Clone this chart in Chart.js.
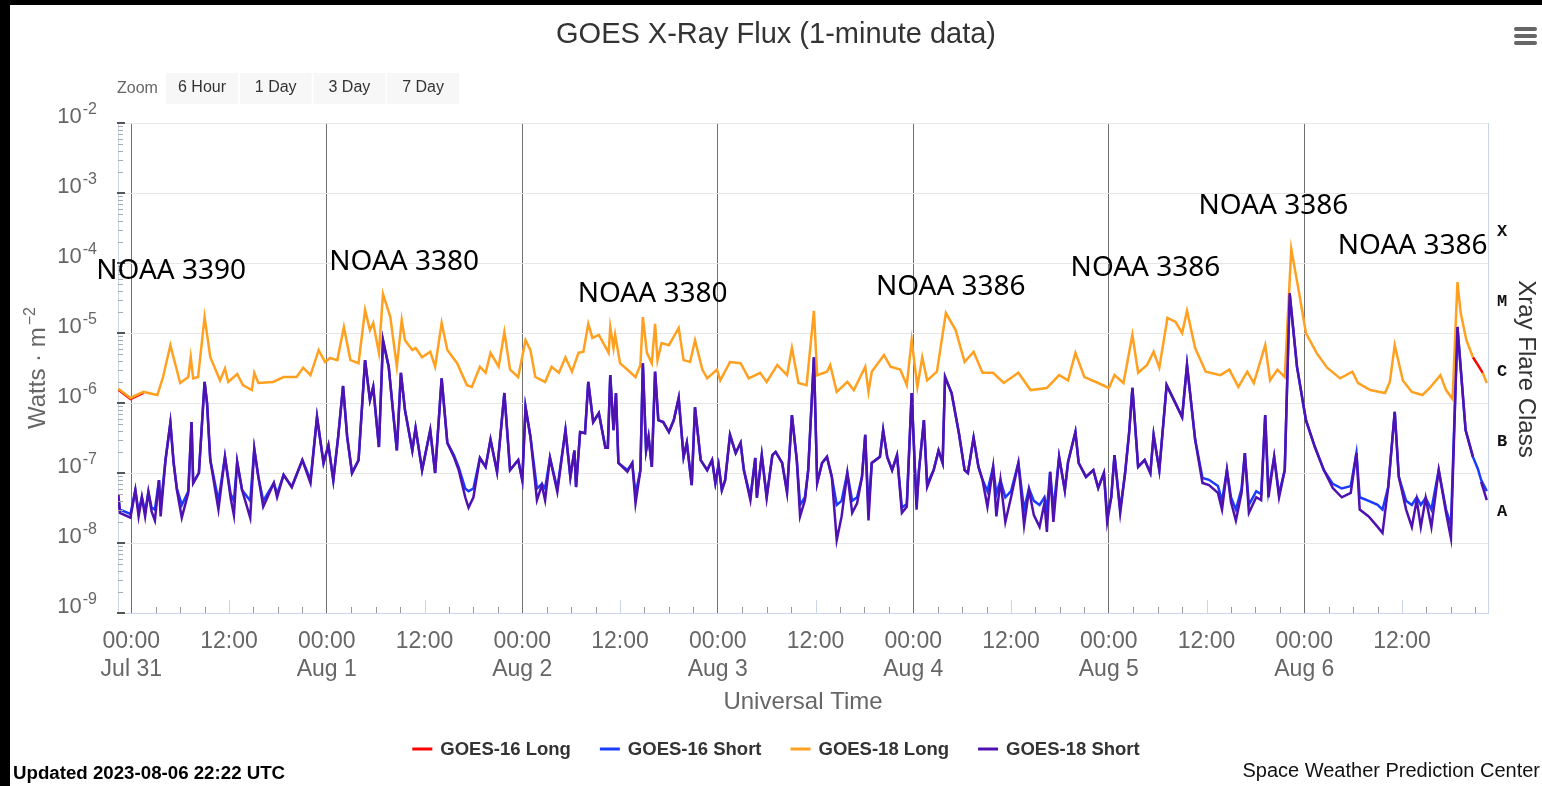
<!DOCTYPE html>
<html lang="en">
<head>
<meta charset="UTF-8">
<title>GOES X-Ray Flux (1-minute data)</title>
<script src="https://cdn.jsdelivr.net/npm/chart.js@4.4.0/dist/chart.umd.min.js"></script>
<style>
    body, html { margin: 0; padding: 0; background: #fff; }
    canvas { display: block; }
</style>
</head>
<body>
<canvas id="xrayChart" width="1542" height="786"></canvas>
<script>
// time = hours since 2023-07-31 00:00 UTC, value = flux in W/m^2
const dayLabels = ['Jul 31', 'Aug 1', 'Aug 2', 'Aug 3', 'Aug 4', 'Aug 5', 'Aug 6'];
const decadeExponents = [-9, -8, -7, -6, -5, -4, -3, -2];
const flareClasses = ['A', 'B', 'C', 'M', 'X'];
const flareClassBase = [1e-8, 1e-7, 1e-6, 1e-5, 1e-4];
const zoomButtons = ['6 Hour', '1 Day', '3 Day', '7 Day'];

const noaaLabels = ['NOAA 3390', 'NOAA 3380', 'NOAA 3380', 'NOAA 3386', 'NOAA 3386', 'NOAA 3386', 'NOAA 3386'];
const noaaHours = [4.9, 33.5, 64.0, 100.6, 124.5, 140.2, 157.3];
const noaaFlux = [7.7e-5, 1.03e-4, 3.6e-5, 4.5e-5, 8.5e-5, 6.5e-4, 1.75e-4];

// GOES-16 long channel, only visible where it is not under GOES-18
const g16Long = [
    [-1.6, 1.55e-6], [-0.1, 1.14e-6], [1.5, 1.4e-6], [2.2, null],
    [164.7, 4.5e-6], [165.3, 3.5e-6], [165.9, 2.7e-6]
];

const g18Long = [
    [-1.6, 1.6e-6], [-0.1, 1.18e-6], [1.5, 1.44e-6], [3.2, 1.3e-6], [3.9, 2.35e-6], [4.8, 6.7e-6],
    [6.0, 1.93e-6], [7.0, 2.35e-6], [7.3, 4.5e-6], [7.6, 2.25e-6], [8.2, 2.35e-6], [9.0, 1.69e-5],
    [9.7, 4.5e-6], [10.9, 2.1e-6], [11.5, 3.1e-6], [11.9, 2.0e-6], [13.0, 2.6e-6], [13.7, 1.8e-6],
    [14.8, 1.53e-6], [15.1, 2.7e-6], [15.6, 1.93e-6], [17.4, 2.0e-6], [18.7, 2.35e-6], [20.3, 2.35e-6],
    [21.1, 3.2e-6], [22.0, 2.5e-6], [23.0, 5.7e-6], [23.8, 3.85e-6], [24.4, 4.4e-6], [25.3, 4.1e-6],
    [26.1, 1.22e-5], [26.9, 4.1e-6], [27.9, 3.7e-6], [28.7, 2.13e-5], [29.3, 1.1e-5], [29.7, 1.39e-5],
    [30.4, 5.2e-6], [30.9, 3.6e-5], [31.8, 1.69e-5], [32.6, 3.3e-6], [33.2, 1.53e-5], [33.6, 7.9e-6],
    [34.5, 5.7e-6], [34.9, 6.1e-6], [35.7, 4.5e-6], [36.7, 5.4e-6], [37.3, 3.3e-6], [38.1, 1.39e-5],
    [38.8, 5.7e-6], [40.0, 3.7e-6], [41.2, 1.8e-6], [41.8, 1.7e-6], [42.8, 3.3e-6], [43.5, 2.7e-6],
    [44.1, 5.2e-6], [45.1, 3.3e-6], [45.8, 1.03e-5], [46.5, 3.0e-6], [47.5, 2.35e-6], [48.4, 7.9e-6],
    [49.0, 5.7e-6], [49.6, 2.35e-6], [50.8, 2.0e-6], [51.6, 3.3e-6], [52.5, 2.7e-6], [53.3, 4.5e-6],
    [54.1, 2.8e-6], [54.9, 5.2e-6], [55.5, 5.4e-6], [56.1, 1.35e-5], [56.6, 8.5e-6], [57.4, 9.4e-6],
    [58.6, 5.2e-6], [58.8, 1.22e-5], [59.2, 6.1e-6], [59.4, 9.4e-6], [60.0, 3.7e-6], [61.9, 2.35e-6],
    [62.5, 3.5e-6], [62.8, 1.69e-5], [63.3, 5.2e-6], [63.9, 3.7e-6], [64.3, 1.35e-5], [64.6, 4.1e-6],
    [65.1, 7.2e-6], [66.0, 6.7e-6], [67.2, 1.18e-5], [67.8, 4.1e-6], [68.6, 3.85e-6], [69.2, 7.9e-6],
    [70.1, 3.0e-6], [70.7, 2.25e-6], [71.9, 3.0e-6], [72.3, 2.1e-6], [73.5, 3.85e-6], [74.8, 3.7e-6],
    [75.8, 2.25e-6], [77.2, 2.7e-6], [78.0, 2.0e-6], [79.3, 3.5e-6], [80.5, 2.5e-6], [81.1, 6.1e-6],
    [81.9, 1.93e-6], [82.9, 1.8e-6], [83.8, 2.07e-5], [84.2, 2.5e-6], [85.4, 2.8e-6], [85.8, 3.5e-6],
    [86.6, 1.44e-6], [87.9, 2.0e-6], [88.7, 1.53e-6], [90.1, 3.3e-6], [90.5, 1.44e-6], [90.9, 2.8e-6],
    [92.4, 4.85e-6], [93.2, 3.3e-6], [94.4, 3.0e-6], [95.2, 1.8e-6], [95.8, 7.9e-6], [96.5, 1.7e-6],
    [97.1, 4.5e-6], [97.7, 2.1e-6], [98.9, 2.8e-6], [100.0, 1.93e-5], [101.2, 1.1e-5], [102.3, 3.85e-6],
    [103.4, 5.4e-6], [104.5, 2.7e-6], [105.8, 2.7e-6], [107.1, 1.93e-6], [108.9, 2.7e-6], [110.4, 1.53e-6],
    [112.4, 1.64e-6], [113.9, 2.5e-6], [115.0, 2.1e-6], [115.9, 5.2e-6], [117.0, 2.35e-6], [118.7, 1.93e-6],
    [120.0, 1.64e-6], [120.7, 2.5e-6], [121.8, 1.93e-6], [122.9, 9.4e-6], [123.6, 2.7e-6], [124.7, 3.5e-6],
    [125.5, 5.4e-6], [126.2, 3.2e-6], [127.2, 1.64e-5], [128.2, 1.44e-5], [129.0, 1.0e-5], [129.6, 2.07e-5],
    [130.6, 6.1e-6], [131.9, 2.8e-6], [133.7, 2.5e-6], [134.8, 3.0e-6], [135.9, 1.7e-6], [137.0, 2.8e-6],
    [137.8, 1.93e-6], [139.2, 6.7e-6], [139.8, 2.1e-6], [140.7, 3.0e-6], [141.6, 2.35e-6], [142.4, 1.58e-4],
    [143.3, 4.1e-5], [144.2, 1.0e-5], [145.5, 5.2e-6], [146.8, 3.2e-6], [148.4, 2.25e-6], [149.9, 2.8e-6],
    [150.6, 1.93e-6], [152.1, 1.53e-6], [153.9, 1.39e-6], [154.5, 2.0e-6], [155.1, 6.7e-6], [156.1, 2.1e-6],
    [157.2, 1.44e-6], [158.5, 1.3e-6], [159.4, 1.64e-6], [160.7, 2.5e-6], [161.4, 1.53e-6], [162.2, 1.14e-6],
    [162.8, 5.35e-5], [163.2, 1.93e-5], [163.9, 7.9e-6], [164.7, 4.5e-6], [165.3, null], [165.9, 2.7e-6],
    [166.4, 1.93e-6]
];

const g16Short = [
    [-1.6, 5.0e-8], [-1.4, 3.0e-8], [-0.1, 2.6e-8], [0.5, 5.7e-8], [0.9, 2.8e-8], [1.3, 4.5e-8],
    [1.7, 2.8e-8], [2.1, 5.35e-8], [2.5, 3.2e-8], [2.9, 3.0e-8], [3.4, 7.9e-8], [3.6, 3.2e-8],
    [4.2, 1.53e-7], [4.8, 5.2e-7], [5.2, 1.39e-7], [5.6, 6.0e-8], [6.2, 3.5e-8], [7.0, 5.5e-8],
    [7.4, 5.35e-7], [7.6, 7.2e-8], [8.3, 1.0e-7], [9.0, 2.0e-6], [9.3, 1.0e-6], [9.7, 1.53e-7],
    [10.7, 4.0e-8], [11.5, 1.7e-7], [12.2, 5.0e-8], [12.6, 4.0e-8], [13.0, 1.44e-7], [13.6, 5.7e-8],
    [14.6, 4.0e-8], [15.1, 2.2e-7], [15.6, 8.8e-8], [16.2, 4.0e-8], [17.5, 7.2e-8], [17.9, 5.0e-8],
    [18.7, 9.4e-8], [19.7, 6.3e-8], [21.0, 1.53e-7], [22.0, 8.0e-8], [22.8, 6.3e-7], [23.6, 1.39e-7],
    [24.2, 2.5e-7], [24.8, 7.9e-8], [25.4, 3.3e-7], [26.0, 1.75e-6], [26.5, 3.3e-7], [27.1, 1.0e-7],
    [27.9, 1.53e-7], [28.7, 4.1e-6], [29.3, 1.1e-6], [29.7, 1.7e-6], [30.4, 2.35e-7], [30.9, 7.9e-6],
    [31.6, 3.3e-6], [32.6, 2.1e-7], [33.1, 2.7e-6], [33.6, 7.9e-7], [34.5, 2.1e-7], [34.9, 4.4e-7],
    [35.7, 1.1e-7], [36.7, 4.1e-7], [37.3, 1.0e-7], [38.1, 2.25e-6], [38.8, 2.7e-7], [39.6, 1.8e-7],
    [40.2, 1.2e-7], [41.0, 6.0e-8], [41.4, 5.5e-8], [42.0, 6.0e-8], [42.8, 1.64e-7], [43.5, 1.22e-7],
    [44.1, 3.0e-7], [44.9, 1.04e-7], [45.8, 1.39e-6], [46.5, 1.1e-7], [47.5, 1.53e-7], [48.0, 7.9e-8],
    [48.4, 8.7e-7], [49.0, 3.3e-7], [49.8, 6.0e-8], [50.4, 7.0e-8], [50.8, 6.0e-8], [51.4, 1.64e-7],
    [52.3, 6.0e-8], [53.3, 4.1e-7], [53.9, 8.8e-8], [54.4, 2.1e-7], [54.6, 6.3e-8], [55.1, 3.85e-7],
    [55.7, 3.7e-7], [56.1, 2.0e-6], [56.7, 5.35e-7], [57.4, 7.2e-7], [58.2, 2.3e-7], [58.5, 2.3e-7],
    [58.8, 2.5e-6], [59.2, 4.1e-7], [59.5, 1.39e-6], [59.8, 1.39e-7], [60.9, 1.1e-7], [61.5, 1.39e-7],
    [61.9, 5.0e-8], [62.5, 1.1e-7], [62.8, 3.7e-6], [63.2, 2.1e-7], [63.5, 3.3e-7], [63.9, 1.22e-7],
    [64.3, 2.8e-6], [64.7, 5.7e-7], [65.3, 5.35e-7], [66.0, 3.85e-7], [66.6, 5.7e-7], [67.2, 1.18e-6],
    [67.8, 1.7e-7], [68.2, 2.7e-7], [68.8, 6.7e-8], [69.2, 8.7e-7], [69.9, 1.53e-7], [70.7, 1.1e-7],
    [71.3, 1.53e-7], [71.7, 7.2e-8], [72.1, 1.3e-7], [72.5, 5.7e-8], [72.9, 7.9e-8], [73.5, 3.5e-7],
    [74.2, 1.93e-7], [74.8, 2.7e-7], [75.2, 1.1e-7], [76.0, 4.5e-8], [76.6, 1.64e-7], [76.8, 4.6e-8],
    [77.4, 1.8e-7], [78.0, 4.6e-8], [78.7, 1.8e-7], [79.1, 2.0e-7], [79.9, 1.39e-7], [80.5, 5.5e-8],
    [81.1, 6.7e-7], [81.7, 1.53e-7], [82.1, 3.5e-8], [82.7, 4.5e-8], [83.1, 1.1e-7], [83.8, 4.5e-6],
    [84.2, 7.2e-8], [84.8, 1.39e-7], [85.4, 1.7e-7], [86.0, 8.8e-8], [86.6, 3.5e-8], [87.2, 4.0e-8],
    [87.9, 1.0e-7], [88.5, 4.0e-8], [89.1, 4.5e-8], [89.7, 8.8e-8], [90.1, 3.5e-7], [90.5, 3.0e-8],
    [90.9, 1.39e-7], [91.9, 1.7e-7], [92.3, 4.1e-7], [92.8, 1.7e-7], [93.4, 1.1e-7], [94.0, 1.8e-7],
    [94.6, 3.2e-8], [95.2, 3.6e-8], [95.8, 1.39e-6], [96.4, 3.5e-8], [96.7, 1.1e-7], [97.3, 5.7e-7],
    [97.7, 7.0e-8], [98.5, 1.1e-7], [99.1, 2.1e-7], [99.6, 1.39e-7], [99.9, 2.35e-6], [100.7, 1.39e-6],
    [101.6, 3.7e-7], [102.3, 1.1e-7], [102.7, 1.0e-7], [103.4, 3.2e-7], [104.0, 1.22e-7], [104.5, 8.0e-8],
    [105.1, 5.5e-8], [105.8, 1.22e-7], [106.2, 5.0e-8], [106.7, 7.9e-8], [107.3, 4.5e-8], [108.0, 5.5e-8],
    [108.9, 1.39e-7], [109.6, 3.0e-8], [110.2, 6.0e-8], [110.8, 4.0e-8], [111.5, 3.5e-8], [112.1, 4.5e-8],
    [112.4, 3.0e-8], [112.8, 1.04e-7], [113.2, 3.0e-8], [113.9, 1.7e-7], [114.6, 5.7e-8], [115.0, 1.44e-7],
    [115.9, 3.85e-7], [116.3, 1.39e-7], [117.2, 8.8e-8], [118.1, 1.1e-7], [118.7, 6.1e-8], [119.4, 1.0e-7],
    [119.8, 2.5e-8], [120.3, 4.5e-8], [120.7, 1.8e-7], [121.4, 3.0e-8], [122.0, 1.0e-7], [122.5, 3.85e-7],
    [122.9, 1.64e-6], [123.6, 1.22e-7], [124.4, 1.53e-7], [125.1, 1.0e-7], [125.5, 3.5e-7], [126.2, 1.1e-7],
    [127.1, 1.8e-6], [128.0, 1.1e-6], [129.0, 6.3e-7], [129.6, 3.5e-6], [130.6, 3.0e-7], [131.5, 8.5e-8],
    [132.3, 8.0e-8], [133.4, 6.5e-8], [133.9, 4.0e-8], [134.5, 1.1e-7], [135.0, 4.5e-8], [135.6, 3.0e-8],
    [136.3, 6.0e-8], [136.7, 1.93e-7], [137.2, 3.5e-8], [138.1, 5.5e-8], [138.7, 5.0e-8], [139.2, 6.7e-7],
    [139.6, 5.5e-8], [140.3, 1.7e-7], [140.9, 5.0e-8], [141.6, 1.1e-7], [142.2, 3.7e-5], [143.1, 3.3e-6],
    [144.2, 5.7e-7], [145.3, 2.35e-7], [146.4, 1.1e-7], [147.5, 7.0e-8], [148.6, 6.0e-8], [149.7, 6.5e-8],
    [150.4, 1.93e-7], [150.8, 4.5e-8], [151.9, 4.0e-8], [153.0, 3.5e-8], [153.6, 3.0e-8], [154.3, 6.3e-8],
    [155.1, 7.5e-7], [155.6, 8.8e-8], [156.5, 4.0e-8], [157.2, 3.5e-8], [157.8, 4.5e-8], [158.3, 3.5e-8],
    [158.9, 4.4e-8], [159.6, 3.0e-8], [160.5, 1.1e-7], [161.4, 3.0e-8], [162.0, 1.8e-8], [162.8, 1.22e-5],
    [163.8, 4.1e-7], [164.7, 1.7e-7], [165.3, 1.15e-7], [165.7, 8.0e-8], [166.4, 5.5e-8]
];

const g18Short = [
    [-1.6, 4.85e-8], [-1.4, 2.7e-8], [-0.1, 2.3e-8], [0.5, 5.7e-8], [0.9, 2.4e-8], [1.3, 4.5e-8],
    [1.7, 2.4e-8], [2.1, 5.35e-8], [2.5, 2.8e-8], [2.9, 2.1e-8], [3.4, 7.9e-8], [3.6, 2.4e-8],
    [4.2, 1.53e-7], [4.8, 5.2e-7], [5.2, 1.39e-7], [5.6, 5.7e-8], [6.2, 2.3e-8], [7.0, 5.2e-8],
    [7.4, 5.35e-7], [7.6, 7.2e-8], [8.3, 1.0e-7], [9.0, 2.0e-6], [9.3, 1.0e-6], [9.7, 1.53e-7],
    [10.7, 3.0e-8], [11.5, 1.7e-7], [12.2, 4.4e-8], [12.6, 2.5e-8], [13.0, 1.44e-7], [13.6, 5.7e-8],
    [14.6, 2.3e-8], [15.1, 2.2e-7], [15.6, 8.8e-8], [16.2, 3.3e-8], [17.5, 7.2e-8], [17.9, 4.5e-8],
    [18.7, 9.4e-8], [19.7, 6.3e-8], [21.0, 1.53e-7], [22.0, 7.2e-8], [22.8, 6.3e-7], [23.6, 1.39e-7],
    [24.2, 2.5e-7], [24.8, 7.9e-8], [25.4, 3.3e-7], [26.0, 1.75e-6], [26.5, 3.3e-7], [27.1, 1.0e-7],
    [27.9, 1.53e-7], [28.7, 4.1e-6], [29.3, 1.1e-6], [29.7, 1.7e-6], [30.4, 2.35e-7], [30.9, 7.9e-6],
    [31.6, 3.3e-6], [32.6, 2.1e-7], [33.1, 2.7e-6], [33.6, 7.9e-7], [34.5, 2.1e-7], [34.9, 4.4e-7],
    [35.7, 1.1e-7], [36.7, 4.1e-7], [37.3, 1.0e-7], [38.1, 2.25e-6], [38.8, 2.7e-7], [39.6, 1.7e-7],
    [40.2, 1.1e-7], [41.0, 4.5e-8], [41.4, 3.2e-8], [42.0, 4.5e-8], [42.8, 1.64e-7], [43.5, 1.22e-7],
    [44.1, 3.0e-7], [44.9, 1.04e-7], [45.8, 1.39e-6], [46.5, 1.1e-7], [47.5, 1.53e-7], [48.0, 7.9e-8],
    [48.4, 8.7e-7], [49.0, 3.3e-7], [49.8, 4.1e-8], [50.4, 6.7e-8], [50.8, 4.1e-8], [51.4, 1.64e-7],
    [52.3, 5.35e-8], [53.3, 4.1e-7], [53.9, 8.8e-8], [54.4, 2.1e-7], [54.6, 6.3e-8], [55.1, 3.85e-7],
    [55.7, 3.7e-7], [56.1, 2.0e-6], [56.7, 5.35e-7], [57.4, 7.2e-7], [58.2, 2.3e-7], [58.5, 2.3e-7],
    [58.8, 2.5e-6], [59.2, 4.1e-7], [59.5, 1.39e-6], [59.8, 1.39e-7], [60.9, 1.04e-7], [61.5, 1.39e-7],
    [61.9, 3.7e-8], [62.5, 1.1e-7], [62.8, 3.7e-6], [63.2, 2.1e-7], [63.5, 3.3e-7], [63.9, 1.22e-7],
    [64.3, 2.8e-6], [64.7, 5.7e-7], [65.3, 5.35e-7], [66.0, 3.85e-7], [66.6, 5.7e-7], [67.2, 1.18e-6],
    [67.8, 1.7e-7], [68.2, 2.7e-7], [68.8, 6.7e-8], [69.2, 8.7e-7], [69.9, 1.53e-7], [70.7, 1.1e-7],
    [71.3, 1.53e-7], [71.7, 7.2e-8], [72.1, 1.3e-7], [72.5, 5.7e-8], [72.9, 7.9e-8], [73.5, 3.5e-7],
    [74.2, 1.93e-7], [74.8, 2.7e-7], [75.2, 1.1e-7], [76.0, 4.1e-8], [76.6, 1.64e-7], [76.8, 4.4e-8],
    [77.4, 1.8e-7], [78.0, 4.4e-8], [78.7, 1.8e-7], [79.1, 2.0e-7], [79.9, 1.39e-7], [80.5, 5.2e-8],
    [81.1, 6.7e-7], [81.7, 1.53e-7], [82.1, 2.4e-8], [82.7, 4.1e-8], [83.1, 1.1e-7], [83.8, 4.5e-6],
    [84.2, 7.2e-8], [84.8, 1.39e-7], [85.4, 1.7e-7], [86.0, 8.8e-8], [86.6, 1.1e-8], [87.2, 2.4e-8],
    [87.9, 1.0e-7], [88.5, 2.7e-8], [89.1, 3.7e-8], [89.7, 8.8e-8], [90.1, 3.5e-7], [90.5, 2.1e-8],
    [90.9, 1.39e-7], [91.9, 1.7e-7], [92.3, 4.1e-7], [92.8, 1.7e-7], [93.4, 1.1e-7], [94.0, 1.8e-7],
    [94.6, 2.7e-8], [95.2, 3.3e-8], [95.8, 1.39e-6], [96.4, 3.0e-8], [96.7, 1.1e-7], [97.3, 5.7e-7],
    [97.7, 6.3e-8], [98.5, 1.1e-7], [99.1, 2.1e-7], [99.6, 1.39e-7], [99.9, 2.35e-6], [100.7, 1.39e-6],
    [101.6, 3.7e-7], [102.3, 1.1e-7], [102.7, 1.0e-7], [103.4, 3.2e-7], [104.0, 1.22e-7], [104.5, 7.9e-8],
    [105.1, 3.3e-8], [105.8, 1.22e-7], [106.2, 2.4e-8], [106.7, 7.9e-8], [107.3, 2.0e-8], [108.0, 4.5e-8],
    [108.9, 1.39e-7], [109.6, 1.8e-8], [110.2, 5.7e-8], [110.8, 2.5e-8], [111.5, 1.7e-8], [112.1, 3.7e-8],
    [112.4, 1.44e-8], [112.8, 1.04e-7], [113.2, 2.0e-8], [113.9, 1.7e-7], [114.6, 5.7e-8], [115.0, 1.44e-7],
    [115.9, 3.85e-7], [116.3, 1.39e-7], [117.2, 8.8e-8], [118.1, 1.1e-7], [118.7, 6.1e-8], [119.4, 1.0e-7],
    [119.8, 2.0e-8], [120.3, 4.5e-8], [120.7, 1.8e-7], [121.4, 2.7e-8], [122.0, 1.0e-7], [122.5, 3.85e-7],
    [122.9, 1.64e-6], [123.6, 1.22e-7], [124.4, 1.53e-7], [125.1, 1.0e-7], [125.5, 3.5e-7], [126.2, 1.1e-7],
    [127.1, 1.8e-6], [128.0, 1.1e-6], [129.0, 6.3e-7], [129.6, 3.5e-6], [130.6, 3.0e-7], [131.5, 7.2e-8],
    [132.3, 6.7e-8], [133.4, 5.2e-8], [133.9, 3.0e-8], [134.5, 1.1e-7], [135.0, 3.85e-8], [135.6, 2.1e-8],
    [136.3, 5.2e-8], [136.7, 1.93e-7], [137.2, 2.7e-8], [138.1, 4.5e-8], [138.7, 4.1e-8], [139.2, 6.7e-7],
    [139.6, 4.5e-8], [140.3, 1.7e-7], [140.9, 4.5e-8], [141.6, 1.1e-7], [142.2, 3.7e-5], [143.1, 3.3e-6],
    [144.2, 5.7e-7], [145.3, 2.35e-7], [146.4, 1.1e-7], [147.5, 6.1e-8], [148.6, 4.5e-8], [149.7, 5.2e-8],
    [150.4, 1.93e-7], [150.8, 3.0e-8], [151.9, 2.4e-8], [153.0, 1.7e-8], [153.6, 1.39e-8], [154.3, 6.3e-8],
    [155.1, 7.5e-7], [155.6, 8.8e-8], [156.5, 3.0e-8], [157.2, 1.7e-8], [157.8, 4.1e-8], [158.3, 1.7e-8],
    [158.9, 4.4e-8], [159.6, 1.7e-8], [160.5, 1.1e-7], [161.4, 2.7e-8], [162.0, 1.18e-8], [162.8, 1.22e-5],
    [163.8, 4.1e-7], [164.7, 1.7e-7], [165.3, null], [165.7, 7.5e-8], [166.4, 4.1e-8]
];

const axisMinHour = -1.63;
const axisMaxHour = 166.55;
const FONT = '"Liberation Sans", Arial, sans-serif';

// everything that Chart.js does not draw itself: texts, buttons, tick marks, legend
const decorPlugin = {
    id: 'decor',
    beforeDraw(chart) {
        const ctx = chart.ctx;
        ctx.save();
        ctx.fillStyle = '#fff';
        ctx.fillRect(0, 0, chart.width, chart.height);
        ctx.fillStyle = '#000';
        ctx.fillRect(0, 0, 10, chart.height);
        ctx.fillRect(0, 0, chart.width, 5);
        ctx.restore();
    },
    afterDatasetsDraw(chart) {
        const ctx = chart.ctx;
        const x = chart.scales.x, y = chart.scales.y;
        const area = chart.chartArea;
        ctx.save();
        // x tick marks inside the plot
        for (let h = Math.ceil(axisMinHour / 3) * 3; h <= axisMaxHour; h += 3) {
            if (h % 24 === 0) continue;
            const px = Math.round(x.getPixelForValue(h)) + 0.5;
            const major = h % 12 === 0;
            ctx.strokeStyle = major ? '#ccd6eb' : '#999';
            ctx.lineWidth = 1;
            ctx.beginPath();
            ctx.moveTo(px, area.bottom);
            ctx.lineTo(px, area.bottom - (major ? 13 : 6));
            ctx.stroke();
        }
        // y log minor ticks
        decadeExponents.forEach((e, i) => {
            const base = Math.pow(10, e);
            const py = Math.round(y.getPixelForValue(base));
            ctx.strokeStyle = '#555';
            ctx.lineWidth = 2;
            ctx.beginPath();
            ctx.moveTo(area.left - 1, py);
            ctx.lineTo(area.left + 7, py);
            ctx.stroke();
            if (i === decadeExponents.length - 1) return;
            ctx.strokeStyle = '#aaa';
            ctx.lineWidth = 1;
            for (let k = 2; k <= 9; k++) {
                const pk = Math.round(y.getPixelForValue(k * base)) + 0.5;
                ctx.beginPath();
                ctx.moveTo(area.left, pk);
                ctx.lineTo(area.left + 5, pk);
                ctx.stroke();
            }
        });
        ctx.restore();
    },
    afterDraw(chart) {
        const ctx = chart.ctx;
        const x = chart.scales.x, y = chart.scales.y;
        const area = chart.chartArea;
        const midX = 776;
        ctx.save();

        // title
        ctx.fillStyle = '#333';
        ctx.font = '29px ' + FONT;
        ctx.textAlign = 'center';
        ctx.textBaseline = 'middle';
        ctx.fillText('GOES X-Ray Flux (1-minute data)', midX, 35);

        // menu icon
        ctx.fillStyle = '#666';
        [27, 34, 41].forEach(top => {
            ctx.beginPath();
            ctx.roundRect(1514, top, 23, 4, 2);
            ctx.fill();
        });

        // zoom buttons
        ctx.font = '16px ' + FONT;
        ctx.textAlign = 'left';
        ctx.fillStyle = '#666';
        ctx.fillText('Zoom', 117, 89);
        zoomButtons.forEach((label, i) => {
            const bx = 166 + i * 73.7;
            ctx.fillStyle = '#f7f7f7';
            ctx.fillRect(bx, 73, 72, 31);
            ctx.fillStyle = '#333';
            ctx.textAlign = 'center';
            ctx.fillText(label, bx + 36, 88);
        });

        // left tick labels 10^n
        ctx.textAlign = 'right';
        ctx.textBaseline = 'alphabetic';
        ctx.fillStyle = '#666';
        decadeExponents.forEach(e => {
            const py = y.getPixelForValue(Math.pow(10, e));
            ctx.font = '16px ' + FONT;
            const sup = String(e);
            const sw = ctx.measureText(sup).width;
            ctx.fillText(sup, 97, py - 9);
            ctx.font = '22px ' + FONT;
            ctx.fillText('10', 97 - sw - 1, py);
        });

        // left axis title
        ctx.save();
        ctx.translate(45, (area.top + area.bottom) / 2);
        ctx.rotate(-Math.PI / 2);
        ctx.font = '24px ' + FONT;
        const mainT = 'Watts \u00b7 m';
        const mw = ctx.measureText(mainT).width;
        ctx.font = '16px ' + FONT;
        const supT = '\u22122';
        const sw2 = ctx.measureText(supT).width;
        const startX = -(mw + sw2 + 2) / 2;
        ctx.textAlign = 'left';
        ctx.font = '24px ' + FONT;
        ctx.fillText(mainT, startX, 0);
        ctx.font = '16px ' + FONT;
        ctx.fillText(supT, startX + mw + 2, -10);
        ctx.restore();

        // flare class labels
        ctx.font = 'bold 17px "Liberation Mono", "DejaVu Sans Mono", monospace';
        ctx.fillStyle = '#111';
        ctx.textAlign = 'center';
        ctx.textBaseline = 'middle';
        flareClasses.forEach((c, i) => {
            const py = y.getPixelForValue(flareClassBase[i] * Math.sqrt(10)) + 4;
            ctx.fillText(c, 1502, py);
        });

        // right axis title
        ctx.save();
        ctx.translate(1519, (area.top + area.bottom) / 2 + 1);
        ctx.rotate(Math.PI / 2);
        ctx.font = '24px ' + FONT;
        ctx.fillStyle = '#333';
        ctx.textAlign = 'center';
        ctx.textBaseline = 'alphabetic';
        ctx.fillText('Xray Flare Class', 0, 0);
        ctx.restore();

        // x axis title
        ctx.font = '24px ' + FONT;
        ctx.fillStyle = '#666';
        ctx.textAlign = 'center';
        ctx.textBaseline = 'middle';
        ctx.fillText('Universal Time', (area.left + area.right) / 2, 702);

        // legend
        ctx.font = 'bold 18.5px ' + FONT;
        const items = chart.data.datasets.map(d => ({ label: d.label, color: d.borderColor }));
        const widths = items.map(it => 28 + ctx.measureText(it.label).width);
        const total = widths.reduce((a, b) => a + b, 0) + 29 * (items.length - 1);
        let lx = midX - total / 2;
        ctx.textAlign = 'left';
        items.forEach((it, i) => {
            ctx.strokeStyle = it.color;
            ctx.lineWidth = 3;
            ctx.beginPath();
            ctx.moveTo(lx, 749);
            ctx.lineTo(lx + 20, 749);
            ctx.stroke();
            ctx.fillStyle = '#333';
            ctx.fillText(it.label, lx + 28, 750);
            lx += widths[i] + 29;
        });

        // footer
        ctx.font = 'bold 18.7px ' + FONT;
        ctx.fillStyle = '#000';
        ctx.fillText('Updated 2023-08-06 22:22 UTC', 13, 774);
        ctx.font = '20px ' + FONT;
        ctx.fillStyle = '#111';
        ctx.textAlign = 'right';
        ctx.fillText('Space Weather Prediction Center', 1540, 771);

        // region annotations
        ctx.font = '28px "Noto Sans", "Open Sans", sans-serif';
        ctx.fillStyle = '#000';
        ctx.textAlign = 'center';
        noaaLabels.forEach((t, i) => {
            ctx.fillText(t, x.getPixelForValue(noaaHours[i]), y.getPixelForValue(noaaFlux[i]));
        });
        ctx.restore();
    }
};

const lineStyle = { borderWidth: 2.5, pointRadius: 0, tension: 0, fill: false, spanGaps: false };

new Chart(document.getElementById('xrayChart'), {
    type: 'line',
    data: {
        datasets: [
            { label: 'GOES-16 Long', data: g16Long, borderColor: '#ff0000', order: 3, ...lineStyle },
            { label: 'GOES-16 Short', data: g16Short, borderColor: '#1a3cff', order: 2, ...lineStyle },
            { label: 'GOES-18 Long', data: g18Long, borderColor: '#ffa020', order: 1, ...lineStyle },
            { label: 'GOES-18 Short', data: g18Short, borderColor: '#4f12b0', order: 0, ...lineStyle }
        ]
    },
    options: {
        responsive: false,
        animation: false,
        devicePixelRatio: 1,
        events: [],
        layout: { padding: { left: 10, right: 0, top: 123, bottom: 73 } },
        plugins: { legend: { display: false }, tooltip: { enabled: false }, title: { display: false } },
        scales: {
            x: {
                type: 'linear',
                min: axisMinHour,
                max: axisMaxHour,
                afterBuildTicks: s => {
                    const t = [];
                    for (let h = 0; h <= axisMaxHour; h += 12) t.push({ value: h });
                    s.ticks = t;
                },
                afterFit: s => { s.height = 100; },
                ticks: {
                    autoSkip: false,
                    maxRotation: 0,
                    padding: 15,
                    color: '#666',
                    font: { family: FONT, size: 23, lineHeight: 1.2 },
                    callback: v => (v % 24 === 0) ? ['00:00', dayLabels[v / 24]] : '12:00'
                },
                grid: {
                    drawTicks: false,
                    lineWidth: 1,
                    color: c => (c.tick && c.tick.value % 24 === 0) ? '#707070' : 'rgba(0,0,0,0)'
                },
                border: { color: '#ccd6eb', width: 1 }
            },
            y: {
                type: 'logarithmic',
                position: 'left',
                min: 1e-9,
                max: 1e-2,
                afterBuildTicks: s => { s.ticks = decadeExponents.map(e => ({ value: Math.pow(10, e) })); },
                afterFit: s => { s.width = 108; },
                ticks: { display: false },
                grid: { color: '#e6e6e6', drawTicks: false, lineWidth: 1 },
                border: { color: '#ccd6eb', width: 1 }
            },
            y2: {
                type: 'logarithmic',
                position: 'right',
                min: 1e-9,
                max: 1e-2,
                afterFit: s => { s.width = 54; },
                ticks: { display: false },
                grid: { display: false, drawTicks: false },
                border: { color: '#ccd6eb', width: 1 }
            }
        }
    },
    plugins: [decorPlugin]
});
</script>
</body>
</html>
